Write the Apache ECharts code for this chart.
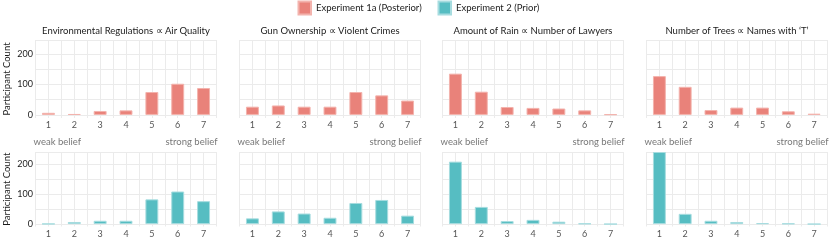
<!DOCTYPE html>
<html>
<head>
<meta charset="utf-8">
<script src="https://cdn.jsdelivr.net/npm/echarts@6/dist/echarts.min.js"></script>
<style>html,body{margin:0;padding:0;background:#fff}#c{width:830px;height:240px}</style>
</head>
<body>
<div id="c"></div>
<script>
// ---- data ----
const categories = [1, 2, 3, 4, 5, 6, 7];
const panelTitles = [
  'Environmental Regulations \u221D Air Quality',
  'Gun Ownership \u221D Violent Crimes',
  'Amount of Rain \u221D Number of Lawyers',
  'Number of Trees \u221D Names with \u2018T\u2019'
];
const seriesNames = ['Experiment 1a (Posterior)', 'Experiment 2 (Prior)'];
const exp1aEnv   = [7, 3, 13, 15, 75, 102, 88];
const exp1aGun   = [27, 31, 27, 27, 75, 64, 47];
const exp1aRain  = [135, 76, 26, 23, 21, 15, 2];
const exp1aTrees = [127, 92, 16, 24, 24, 12, 4];
const exp2Env    = [1, 7, 11, 11, 82, 108, 76];
const exp2Gun    = [19, 42, 35, 21, 70, 80, 28];
const exp2Rain   = [207, 57, 10, 14, 8, 2, 0];
const exp2Trees  = [239, 34, 11, 7, 3, 2, 0];
const yTickLabels = [0, 100, 200];
const beliefLabels = ['weak belief', 'strong belief'];

// ---- layout ----
const FONT = 'Lato';
const lefts = [35.5, 239.5, 442.5, 646.5];
const panelW = 181;
const rows = [
  {top: 40, height: 78, min: -10, max: 245},
  {top: 152, height: 74.5, min: -8, max: 239}
];
const colors = ['#E9827A', '#56BDC2'];
const borders = ['#F3B3AD', '#A6DCDF'];
const rowData = [
  [exp1aEnv, exp1aGun, exp1aRain, exp1aTrees],
  [exp2Env, exp2Gun, exp2Rain, exp2Trees]
];

const grid = [], xAxis = [], yAxis = [], series = [], graphic = [];
let idx = 0;
rows.forEach((r, ri) => {
  for (let p = 0; p < 4; p++) {
    grid.push({left: lefts[p], top: r.top, width: panelW, height: r.height, containLabel: false});
    xAxis.push({
      type: 'value', gridIndex: idx, min: 0.5, max: 7.5, interval: 0.5,
      axisLine: {show: false}, axisTick: {show: false},
      splitLine: {show: true, lineStyle: {color: '#EBEBEB', width: 1}},
      axisLabel: {
        margin: 3, color: '#555', fontFamily: FONT, fontSize: 9,
        formatter: v => (categories.indexOf(v) >= 0 ? String(v) : '')
      }
    });
    yAxis.push({
      type: 'value', gridIndex: idx, min: r.min, max: r.max,
      minInterval: 50, maxInterval: 50,
      axisLine: {show: false}, axisTick: {show: false},
      splitLine: {show: true, showMinLine: false, lineStyle: {color: '#EBEBEB', width: 1}},
      axisLabel: {
        show: p === 0, margin: 2.5, color: '#222', fontFamily: FONT, fontSize: 9,
        showMinLabel: false, showMaxLabel: false,
        formatter: v => (yTickLabels.indexOf(v) >= 0 ? String(v) : '')
      },
      name: p === 0 ? 'Participant Count' : '',
      nameLocation: 'middle', nameRotate: 90, nameGap: 24,
      nameTextStyle: {color: '#1a1a1a', fontFamily: FONT, fontSize: 9.5}
    });
    series.push({
      type: 'bar', name: seriesNames[ri], xAxisIndex: idx, yAxisIndex: idx,
      barWidth: '50%',
      itemStyle: {color: colors[ri], borderColor: borders[ri], borderWidth: 1},
      emphasis: {disabled: true},
      data: categories.map((c, j) => [c, rowData[ri][p][j]])
    });
    idx++;
  }
});

// panel titles (top row) and belief annotations
panelTitles.forEach((t, p) => {
  graphic.push({type: 'text', x: lefts[p] + panelW / 2, y: 31,
    style: {text: t, textAlign: 'center', textVerticalAlign: 'middle', fill: '#1a1a1a', font: '9.5px ' + FONT}});
  graphic.push({type: 'text', x: lefts[p] - 2, y: 141.7,
    style: {text: beliefLabels[0], textAlign: 'left', textVerticalAlign: 'middle', fill: '#777', font: '9.5px ' + FONT}});
  graphic.push({type: 'text', x: lefts[p] + panelW + 1, y: 141.7,
    style: {text: beliefLabels[1], textAlign: 'right', textVerticalAlign: 'middle', fill: '#777', font: '9.5px ' + FONT}});
});

const chart = echarts.init(document.getElementById('c'), null, {renderer: 'canvas'});
chart.setOption({
  animation: false,
  backgroundColor: '#fff',
  legend: [
    {left: 297.5, top: 0.5, padding: 0, icon: 'rect', itemWidth: 12.5, itemHeight: 13, itemGap: 15,
     data: [seriesNames[0]], textStyle: {color: '#1a1a1a', fontFamily: FONT, fontSize: 9.5}},
    {left: 437.5, top: 0.5, padding: 0, icon: 'rect', itemWidth: 12.5, itemHeight: 13, itemGap: 15,
     data: [seriesNames[1]], textStyle: {color: '#1a1a1a', fontFamily: FONT, fontSize: 9.5}}
  ],
  grid, xAxis, yAxis, series, graphic
});
</script>
</body>
</html>
